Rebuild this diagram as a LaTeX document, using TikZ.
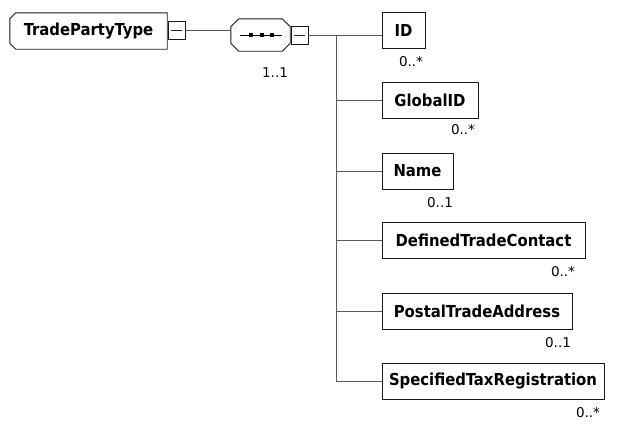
\documentclass[tikz,border=0pt]{standalone}
\usepackage{fontspec}
\setmainfont{DejaVu Sans}
\newfontfamily\boxfont{DejaVu Sans Condensed}
\begin{document}
\begin{tikzpicture}[x=1pt,y=-1pt,
  edge/.style={draw=black!65,line width=0.9pt},
  outline/.style={draw=black!90,line width=0.9pt},
  namefont/.style={font=\boxfont\bfseries\fontsize{16.5}{18}\selectfont},
  elem/.style={outline,fill=white,minimum height=36pt,inner sep=0pt,namefont},
  card/.style={inner sep=0pt,font=\fontsize{13.5}{15}\selectfont,text=black},
  minusbox/.style={outline,fill=white,minimum width=17pt,minimum height=18pt,inner sep=0pt}]
\useasboundingbox (0,0) rectangle (621,424);
\fill[white] (0,0) rectangle (621,424);

% root element
\node[inner sep=0pt,minimum width=157pt,minimum height=36pt,namefont] (tpt) at (88.5,31) {TradePartyType};
\draw[outline] ([xshift=6pt]tpt.north west) -- (tpt.north east) -- (tpt.south east)
  -- ([xshift=6pt]tpt.south west) -- ([yshift=6pt]tpt.south west) -- ([yshift=-6pt]tpt.north west) -- cycle;
\node[minusbox] (tptm) at (176.5,30) {};
\draw[black!85,line width=0.7pt] ([xshift=3pt]tptm.west) -- ([xshift=-3pt]tptm.east);

% sequence compositor
\node[inner sep=0pt,minimum width=59pt,minimum height=32pt] (seq) at (260.5,35) {};
\draw[outline] ([xshift=8pt]seq.north west) -- ([xshift=-8pt]seq.north east) -- ([yshift=-8pt]seq.north east)
  -- ([yshift=8pt]seq.south east) -- ([xshift=-8pt]seq.south east) -- ([xshift=8pt]seq.south west)
  -- ([yshift=8pt]seq.south west) -- ([yshift=-8pt]seq.north west) -- cycle;
\draw[black,line width=0.8pt] ([xshift=9pt]seq.west) -- ([xshift=-8pt]seq.east);
\foreach \dx in {-9.5,1.5,11.5} \fill[black] ([xshift=\dx pt]seq.center) ++(-2.2,-2.2) rectangle ++(4.4,4.4);
\node[minusbox] (seqm) at (299.5,35) {};
\draw[black!85,line width=0.7pt] ([xshift=3pt]seqm.west) -- ([xshift=-3pt]seqm.east);
\node[card] (seqc) at (275,73) {1..1};

\draw[edge] (tptm.east) -- (tptm.east -| seq.west);

% children
\node[elem,minimum width=43pt]  (idb)  at (403.5,30.5) {ID};
\node[elem,minimum width=96pt]  (gidb) at (430,100.5) {GlobalID};
\node[elem,minimum width=71pt]  (nmb)  at (417.5,171) {Name};
\node[elem,minimum width=203pt] (dtcb) at (483.5,240.5) {DefinedTradeContact};
\node[elem,minimum width=190pt] (ptab) at (477,311) {PostalTradeAddress};
\node[elem,minimum width=222pt] (strb) at (493,381) {SpecifiedTaxRegistration};

\node[card] (idc)  at (411,62)  {0..*};
\node[card] (gidc) at (463,130) {0..*};
\node[card] (nmc)  at (440,203) {0..1};
\node[card] (dtcc) at (563,272) {0..*};
\node[card] (ptac) at (558,343) {0..1};
\node[card] (strc) at (588,413) {0..*};

% connectors
\coordinate (trunk) at (336.5,35);
\draw[edge] (seqm.east) -- (seqm.east -| idb.west);
\draw[edge] (trunk) -- (trunk |- strb.west) -- (strb.west);
\draw[edge] (trunk |- gidb.west) -- (gidb.west);
\draw[edge] (trunk |- nmb.west) -- (nmb.west);
\draw[edge] (trunk |- dtcb.west) -- (dtcb.west);
\draw[edge] (trunk |- ptab.west) -- (ptab.west);
\end{tikzpicture}
\end{document}
